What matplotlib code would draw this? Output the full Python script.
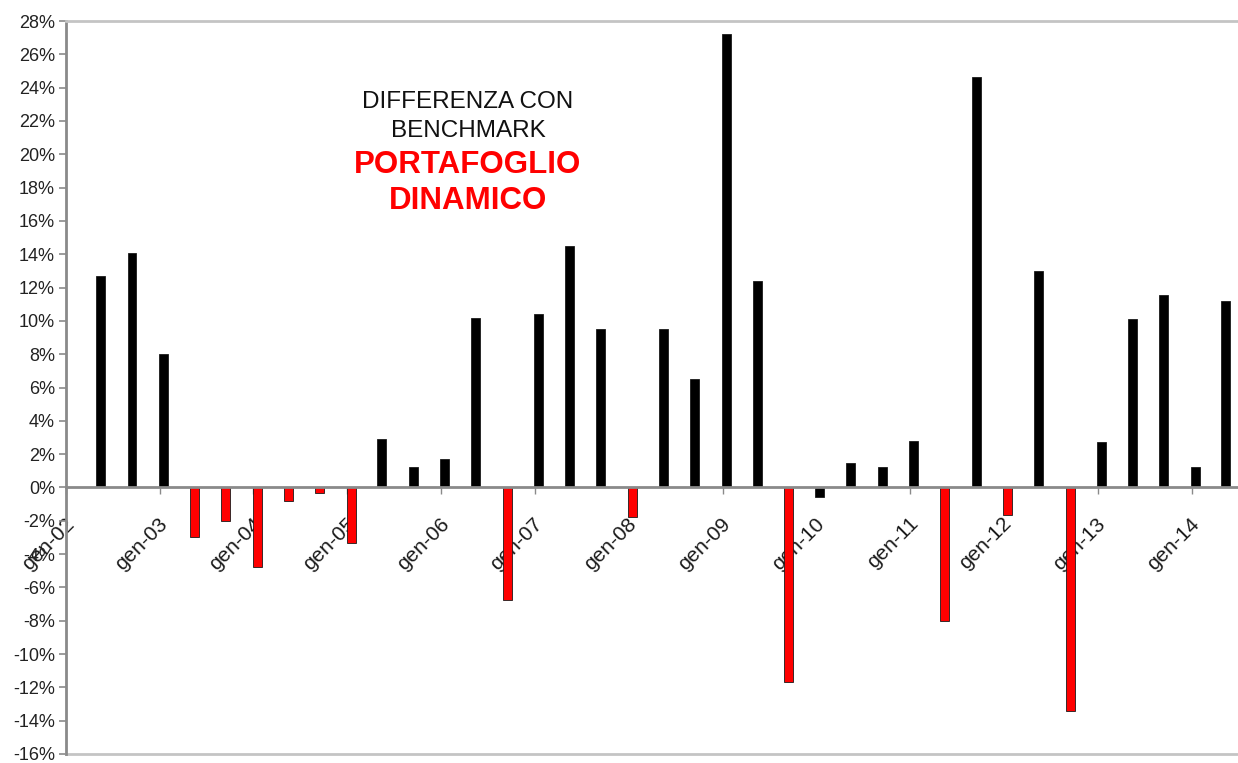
import pandas as pd
import matplotlib
matplotlib.use("Agg")
import matplotlib.pyplot as plt
import matplotlib.dates as mdates
from matplotlib.transforms import ScaledTranslation

# differenza percentuale col benchmark, rilevazioni ogni 4 mesi (mag-02 .. mag-14)
periodi = pd.date_range("2002-05-01", periods=37, freq="4MS") + pd.Timedelta(days=14)
differenza = [
    12.7, 14.1, 8.0,
    -3.0, -2.0, -4.8,
    -0.8, -0.35, -3.35,
    2.9, 1.2, 1.7,
    10.2, -6.75, 10.4,
    14.5, 9.5, -1.8,
    9.5, 6.5, 27.2,
    12.4, -11.7, -0.55,
    1.45, 1.2, 2.8,
    -8.0, 24.65, -1.65,
    13.0, -13.4, 2.7,
    10.1, 11.55, 1.25,
    11.2,
]
# barre evidenziate in rosso (sottoperformance)
evidenziate = [
    False, False, False,
    True, True, True,
    True, True, True,
    False, False, False,
    False, True, False,
    False, False, True,
    False, False, False,
    False, True, False,
    False, False, False,
    True, False, True,
    False, True, False,
    False, False, False,
    False,
]
anni = list(range(2002, 2015))
etichette_anni = ["gen-%02d" % (a % 100) for a in anni]
tick_y = list(range(-16, 30, 2))

plt.rcParams["font.family"] = ["Liberation Sans", "DejaVu Sans"]

fig = plt.figure(figsize=(12.38, 7.63), dpi=100)
ax = fig.add_axes([66 / 1238, 1 - 754 / 763, 1 - 66 / 1238, (754 - 21) / 763])

colori = ["#ff0000" if r else "#000000" for r in evidenziate]
ax.bar(mdates.date2num(periodi), differenza, width=35, color=colori,
       edgecolor="#1a1a1a", linewidth=0.6, zorder=3)

ax.set_xlim(mdates.date2num(pd.Timestamp("2002-01-01")),
            mdates.date2num(pd.Timestamp("2014-07-01")))
ax.set_ylim(-16, 28)

# asse x sullo zero, cornice grigia intorno all'area del grafico
grigio = "#8a8a8a"
ax.spines["bottom"].set_position(("data", 0))
ax.spines["bottom"].set_color(grigio)
ax.spines["bottom"].set_linewidth(2)
ax.spines["bottom"].set_zorder(4)
ax.spines["left"].set_color(grigio)
ax.spines["left"].set_linewidth(2)
ax.spines["top"].set_color("#c4c4c4")
ax.spines["top"].set_linewidth(2)
ax.spines["right"].set_visible(False)
ax.plot([0, 1], [0, 0], transform=ax.transAxes, color="#c4c4c4",
        linewidth=2, clip_on=False)

ax.set_xticks([mdates.date2num(pd.Timestamp(f"{a}-01-01")) for a in anni])
ax.set_xticklabels(etichette_anni, rotation=45, ha="right", va="center",
                   rotation_mode="anchor", fontsize=15, color="#1a1a1a")
ax.tick_params(axis="x", direction="out", length=5, width=1, color=grigio, pad=19)
# etichette leggermente spostate a destra del tick
sposta = ScaledTranslation(5 / 100, 0, fig.dpi_scale_trans)
for lab in ax.get_xticklabels():
    lab.set_transform(lab.get_transform() + sposta)

ax.set_yticks(tick_y)
ax.set_yticklabels([f"{v}%" for v in tick_y], fontsize=13, color="#222222")
ax.tick_params(axis="y", direction="out", length=5, width=1.2, color=grigio, pad=3)

# titolo interno al grafico
fig.text(468 / 1238, 1 - 102 / 763, "DIFFERENZA CON", ha="center", va="center",
         fontsize=17.5, color="#111111")
fig.text(468 / 1238, 1 - 131 / 763, "BENCHMARK", ha="center", va="center",
         fontsize=17.5, color="#111111")
fig.text(468 / 1238, 1 - 165 / 763, "PORTAFOGLIO", ha="center", va="center",
         fontsize=22.5, fontweight="bold", color="#ff0000")
fig.text(468 / 1238, 1 - 201 / 763, "DINAMICO", ha="center", va="center",
         fontsize=22.5, fontweight="bold", color="#ff0000")

fig.savefig("out.png", dpi=100)
